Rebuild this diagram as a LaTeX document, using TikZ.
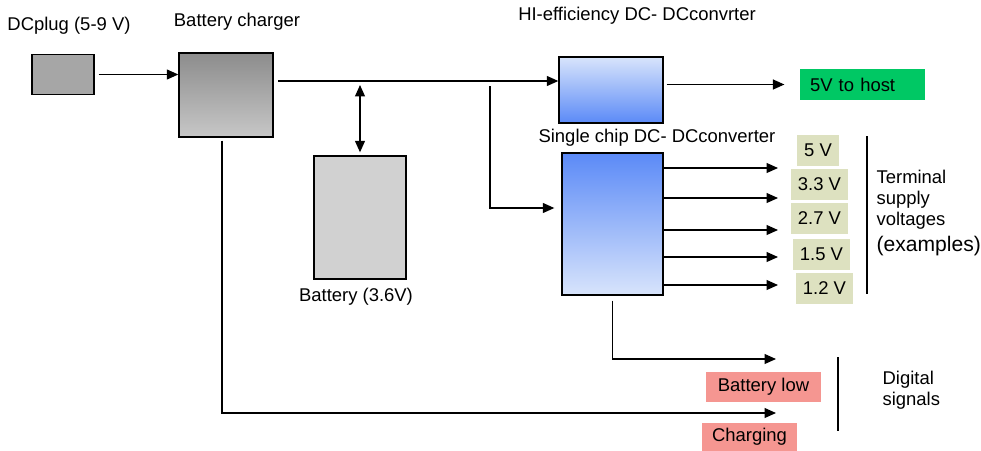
\documentclass[tikz,border=0pt]{standalone}
\usepackage{fontspec}
\setmainfont{Liberation Sans}
\usetikzlibrary{calc,arrows.meta}

\definecolor{voltfill}{RGB}{221,225,192}
\definecolor{hostgreen}{RGB}{0,200,100}
\definecolor{sigred}{RGB}{245,150,145}
\definecolor{convblue}{RGB}{91,138,247}
\definecolor{convpale}{RGB}{216,228,251}

\begin{document}
\begin{tikzpicture}[x=0.02cm, y=-0.02cm, >={Triangle[length=0.23cm,width=0.2cm]}, line width=0.7pt,
        font=\fontsize{10.5}{12}\selectfont]
        \tikzset{
            block/.style={draw, line width=0.8pt, inner sep=0pt},
            tag/.style={inner sep=0pt, minimum height=0.6cm},
            volt/.style={tag, fill=voltfill, minimum height=0.62cm},
            sig/.style={tag, fill=sigred},
            caption/.style={inner sep=0pt, align=left}
        }
        \useasboundingbox (0,0) rectangle (981,450);
        % boxes
        \node[block, fill=black!35, minimum width=1.24cm, minimum height=0.8cm] (plug) at (63,74.5) {};
        \node[block, top color=black!45, bottom color=black!22, minimum width=1.88cm, minimum height=1.68cm] (charger) at (226,95) {};
        \node[block, fill=black!18, minimum width=1.84cm, minimum height=2.46cm] (battery) at (360,217.5) {};
        \node[block, top color=convpale, bottom color=convblue, minimum width=2.08cm, minimum height=1.32cm] (hi) at (611,90) {};
        \node[block, top color=convblue, bottom color=convpale, minimum width=2.02cm, minimum height=2.84cm] (single) at (612.5,224) {};
        % titles
        \node (plugtxt) at (69,26) {DCplug (5-9 V)};
        \node (chargertxt) at (237,22) {Battery charger};
        \node (hitxt) at (637,16) {HI-efficiency DC- DCconvrter};
        \node (singletxt) at (657,138) {Single chip DC- DCconverter};
        \node (batterytxt) at (356,297) {Battery (3.6V)};
        % outputs
        \node[tag, fill=hostgreen, minimum width=2.5cm, minimum height=0.62cm, text width=2.1cm, align=left] (host) at (862.5,84.5) {5V to host};
        \foreach \vx/\vy/\vw/\vtxt [count=\i] in {818/150.5/0.84cm/5 V, 819.5/184/1.14cm/3.3 V, 819.5/218/1.14cm/2.7 V, 821.5/254/1.14cm/1.5 V, 824.5/288/1.14cm/1.2 V}
            \node[volt, minimum width=\vw] (v\i) at (\vx,\vy) {\vtxt};
        \node[sig, minimum width=2.3cm] (batlow) at (763.5,387) {Battery low};
        \node[sig, minimum width=1.9cm, minimum height=0.56cm] (charging) at (749.5,437) {Charging};
        \node[caption, anchor=west] (term) at (876,200) {Terminal\\supply\\voltages};
        \node[caption, anchor=west, font=\fontsize{12}{14}\selectfont] (examples) at (876,246) {(examples)};
        \node[caption, anchor=west] (digital) at (882,390) {Digital\\signals};
        % connectors
        \draw[->, shorten <=0.08cm] (plug.east) -- (plug.east -| charger.west);
        \coordinate (bus) at (278,81);
        \draw[->] (bus) -- (bus -| hi.west);
        \draw[<->, shorten <=0.08cm, shorten >=0.06cm] (battery.north |- bus) -- (battery.north);
        \coordinate (tap) at (490,86);
        \coordinate (feed) at (490,208);
        \draw[->, shorten >=0.14cm] (tap) -- (feed) -- (feed -| single.west);
        \draw[->, shorten <=0.06cm, shorten >=0.3cm] (hi.east |- host.west) -- (host.west);
        \foreach \oy [count=\i] in {168,198,230,257,285} {
            \coordinate (out\i) at (778,\oy);
            \draw[->] (single.east |- out\i) -- (out\i);
        }
        \coordinate (lowend) at (776,359);
        \draw[->] ($(single.south)+(0,5)$) |- (lowend);
        \coordinate (chgend) at (776,413);
        \draw[->] ($(charger.south)+(-4,3)$) |- (chgend);
        % brackets
        \coordinate (termtop) at (867,136);
        \coordinate (termbot) at (867,294);
        \draw (termtop) -- (termbot);
        \coordinate (digtop) at (838,357);
        \coordinate (digbot) at (838,431);
        \draw (digtop) -- (digbot);
    \end{tikzpicture}
\end{document}
